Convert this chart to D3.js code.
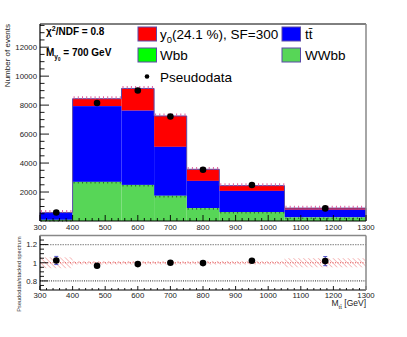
<!DOCTYPE html>
<html>
<head>
<meta charset="utf-8">
<script src="https://cdn.jsdelivr.net/npm/d3@7"></script>
<style>
  body { margin: 0; background: white; }
  text { font-family: "Liberation Sans", Arial, sans-serif; }
</style>
</head>
<body>
<script>
// bin edges and stacked contributions
var edges = [300, 400, 550, 650, 750, 850, 1050, 1300]
var wwbb = [80, 2700, 2490, 1740, 890, 620, 250]
var wbb = [0, 0, 0, 0, 0, 0, 0]
var ttbar = [470, 5230, 5130, 3380, 1880, 1460, 530]
var signal = [40, 510, 1530, 2130, 800, 360, 110]
var pseudo = [590, 8150, 9010, 7210, 3540, 2490, 870]
var centers = [350, 475, 600, 700, 800, 950, 1175]
var ratio = [1.025, 0.967, 0.985, 1.0, 0.996, 1.022, 1.018]
var ratioErr = [0.045, 0.012, 0.01, 0.01, 0.01, 0.014, 0.05]
var bandErr = [0.06, 0.02, 0.02, 0.02, 0.02, 0.02, 0.05]
var yTicks = [2000, 4000, 6000, 8000, 10000, 12000]
var rTicks = [0.8, 1, 1.2]
var xTicks = [300, 400, 500, 600, 700, 800, 900, 1000, 1100, 1200, 1300]

var W = 407, H = 337
var svg = d3.select("body").append("svg")
    .attr("width", W)
    .attr("height", H)

var defs = svg.append("defs")
var pat = defs.append("pattern")
    .attr("id", "hatch")
    .attr("patternUnits", "userSpaceOnUse")
    .attr("width", 3.5).attr("height", 3.5)
    .attr("patternTransform", "rotate(-45)")
pat.append("line")
    .attr("x1", 0).attr("y1", 0).attr("x2", 0).attr("y2", 3.5)
    .attr("stroke", "#f08080").attr("stroke-width", 1)

var x = d3.scaleLinear().domain([300, 1300]).range([40, 366])
var y = d3.scaleLinear().domain([0, 13600]).range([221, 24])
var yr = d3.scaleLinear().domain([0.7, 1.3]).range([290, 235.5])

// build stack
var bins = edges.slice(0, -1).map(function (e, i) {
    var g = wwbb[i], w = g + wbb[i], t = w + ttbar[i], s = t + signal[i]
    return { x0: e, x1: edges[i + 1], g: g, w: w, t: t, s: s }
})

var layers = [
    { key: 's', lo: 't', color: '#ff0000' },
    { key: 't', lo: 'w', color: '#0000ff' },
    { key: 'w', lo: 'g', color: '#00ff00' },
    { key: 'g', lo: null, color: '#57d657' }
]
var upper = svg.append("g")
layers.forEach(function (l) {
    upper.selectAll(null).data(bins).enter().append("rect")
        .attr("x", function (d) { return x(d.x0) })
        .attr("width", function (d) { return x(d.x1) - x(d.x0) })
        .attr("y", function (d) { return y(d[l.key]) })
        .attr("height", function (d) { return y(l.lo ? d[l.lo] : 0) - y(d[l.key]) })
        .attr("fill", l.color)
})

// outline of the stack
var outline = d3.line().x(function (d) { return x(d[0]) }).y(function (d) { return y(d[1]) })
var pts = [[300, 0]]
bins.forEach(function (b) { pts.push([b.x0, b.s]); pts.push([b.x1, b.s]) })
pts.push([1300, 0])
upper.append("path").attr("d", outline(pts))
    .attr("fill", "none").attr("stroke", "#5a4aa8").attr("stroke-width", 1)

// little uncertainty ticks on top of the stack and green layer
upper.selectAll(null).data(bins).enter().append("line")
    .attr("x1", function (d) { return x(d.x0) + 1 })
    .attr("x2", function (d) { return x(d.x1) })
    .attr("y1", function (d) { return y(d.s) - 1.2 })
    .attr("y2", function (d) { return y(d.s) - 1.2 })
    .attr("stroke", "#e060a0").attr("stroke-width", 2.4).attr("stroke-dasharray", "1,3.2")
upper.selectAll(null).data(bins).enter().append("line")
    .attr("x1", function (d) { return x(d.x0) + 1 })
    .attr("x2", function (d) { return x(d.x1) })
    .attr("y1", function (d) { return y(d.g) + 0.8 })
    .attr("y2", function (d) { return y(d.g) + 0.8 })
    .attr("stroke", "#2a6a2a").attr("stroke-width", 1.6).attr("stroke-dasharray", "1,3.2")

// pseudodata
upper.selectAll(null).data(centers).enter().append("circle")
    .attr("cx", function (d) { return x(d) })
    .attr("cy", function (d, i) { return y(pseudo[i]) })
    .attr("r", 3.3).attr("fill", "black")

// frame of upper pad
svg.append("line").attr("x1", 40).attr("x2", 366).attr("y1", 24).attr("y2", 24)
    .attr("stroke", "black").attr("stroke-width", 1)
svg.append("line").attr("x1", 366).attr("x2", 366).attr("y1", 24).attr("y2", 221)
    .attr("stroke", "#888").attr("stroke-width", 1.5)

// axes, ticks on the inside like ROOT
var drawX = function (y0, len, labY) {
    var g = svg.append("g")
    g.append("line").attr("x1", 40).attr("x2", 366).attr("y1", y0).attr("y2", y0)
        .attr("stroke", "black").attr("stroke-width", 1.2)
    for (var v = 300; v <= 1300; v += 20) {
        var major = v % 100 == 0
        g.append("line").attr("x1", x(v)).attr("x2", x(v))
            .attr("y1", y0).attr("y2", y0 - (major ? len : len / 2))
            .attr("stroke", "black").attr("stroke-width", 0.9)
    }
    g.selectAll(null).data(xTicks).enter().append("text")
        .attr("x", function (d) { return x(d) })
        .attr("y", labY)
        .attr("text-anchor", "middle")
        .attr("font-size", 7.8).attr("fill", "#222")
        .text(function (d) { return d })
}
drawX(221, 6, 229.5)
drawX(290, 4, 297.5)

// upper y axis
var ya = svg.append("g")
ya.append("line").attr("x1", 40).attr("x2", 40).attr("y1", 24).attr("y2", 221)
    .attr("stroke", "black").attr("stroke-width", 1.2)
for (var v = 500; v <= 13500; v += 500) {
    var major = v % 2000 == 0
    ya.append("line").attr("x1", 40).attr("x2", 40 + (major ? 9 : 4.5))
        .attr("y1", y(v)).attr("y2", y(v))
        .attr("stroke", "black").attr("stroke-width", 0.9)
}
ya.selectAll(null).data(yTicks).enter().append("text")
    .attr("x", 37).attr("y", function (d) { return y(d) + 2.8 })
    .attr("text-anchor", "end").attr("font-size", 7.8).attr("fill", "#222")
    .text(function (d) { return d })
svg.append("text")
    .attr("transform", "translate(10,24) rotate(-90)")
    .attr("text-anchor", "end").attr("font-size", 8).attr("fill", "#222")
    .text("Number of events")

// lower pad
var low = svg.append("g")
low.selectAll(null).data(bins).enter().append("rect")
    .attr("x", function (d) { return x(d.x0) })
    .attr("width", function (d) { return x(d.x1) - x(d.x0) })
    .attr("y", function (d, i) { return yr(1 + bandErr[i]) })
    .attr("height", function (d, i) { return yr(1 - bandErr[i]) - yr(1 + bandErr[i]) })
    .attr("fill", "url(#hatch)")
low.append("line").attr("x1", 40).attr("x2", 366).attr("y1", yr(1)).attr("y2", yr(1))
    .attr("stroke", "#e05050").attr("stroke-width", 1).attr("stroke-dasharray", "1,1.5")
low.append("line").attr("x1", 40).attr("x2", 366).attr("y1", yr(1.2)).attr("y2", yr(1.2))
    .attr("stroke", "#999").attr("stroke-width", 1.3).attr("stroke-dasharray", "1.5,1")
low.append("line").attr("x1", 40).attr("x2", 366).attr("y1", yr(0.8)).attr("y2", yr(0.8))
    .attr("stroke", "#222").attr("stroke-width", 1).attr("stroke-dasharray", "1,1.2")

// ratio points with error bars
centers.forEach(function (c, i) {
    var cx = x(c)
    low.append("line").attr("x1", cx).attr("x2", cx)
        .attr("y1", yr(ratio[i] + ratioErr[i])).attr("y2", yr(ratio[i] - ratioErr[i]))
        .attr("stroke", "#5050c8").attr("stroke-width", 1)
    if (ratioErr[i] > 0.02) {
        [ratio[i] + ratioErr[i], ratio[i] - ratioErr[i]].forEach(function (v) {
            low.append("line").attr("x1", cx - 2).attr("x2", cx + 2)
                .attr("y1", yr(v)).attr("y2", yr(v))
                .attr("stroke", "#5050c8").attr("stroke-width", 1)
        })
    }
    low.append("circle").attr("cx", cx).attr("cy", yr(ratio[i]))
        .attr("r", 3.3).attr("fill", "black")
})

// lower frame
svg.append("line").attr("x1", 40).attr("x2", 366).attr("y1", 235.5).attr("y2", 235.5)
    .attr("stroke", "#888").attr("stroke-width", 1.5)
svg.append("line").attr("x1", 366).attr("x2", 366).attr("y1", 235.5).attr("y2", 290)
    .attr("stroke", "#888").attr("stroke-width", 1.5)
low.append("line").attr("x1", 40).attr("x2", 40).attr("y1", 235.5).attr("y2", 290)
    .attr("stroke", "black").attr("stroke-width", 1.2)
for (var k = 15; k <= 25; k++) {
    var rr = k * 0.05
    var maj = k % 4 == 0
    low.append("line").attr("x1", 40).attr("x2", 40 + (maj ? 8 : 4))
        .attr("y1", yr(rr)).attr("y2", yr(rr))
        .attr("stroke", "black").attr("stroke-width", 0.9)
}
low.selectAll(null).data(rTicks).enter().append("text")
    .attr("x", 37).attr("y", function (d) { return yr(d) + 2.8 })
    .attr("text-anchor", "end").attr("font-size", 7.8).attr("fill", "#222")
    .text(function (d) { return d })
svg.append("text")
    .attr("transform", "translate(21,274) rotate(-90)")
    .attr("text-anchor", "middle").attr("font-size", 5.6).attr("fill", "#333")
    .text("Pseudodata/stacked spectrum")

// x title
var xt = svg.append("text").attr("x", 366).attr("y", 306)
    .attr("text-anchor", "end").attr("font-size", 8.5).attr("fill", "#222")
xt.append("tspan").text("M")
xt.append("tspan").attr("font-size", 6).attr("dy", 2.5).text("tt\u0304")
xt.append("tspan").attr("dy", -2.5).text(" [GeV]")

// labels in the upper pad
var chi = svg.append("text").attr("x", 46).attr("y", 35)
    .attr("font-size", 10).attr("font-weight", "bold")
chi.append("tspan").text("\u03c7")
chi.append("tspan").attr("font-size", 7).attr("dy", -4).text("2")
chi.append("tspan").attr("dy", 4).text("/NDF = 0.8")

var mass = svg.append("text").attr("x", 46).attr("y", 56)
    .attr("font-size", 10).attr("font-weight", "bold")
mass.append("tspan").text("M")
mass.append("tspan").attr("font-size", 6.5).attr("dy", 2.5).text("y")
mass.append("tspan").attr("font-size", 4.5).attr("dy", 2).text("0")
mass.append("tspan").attr("dy", -4.5).text(" = 700 GeV")

// legend
var legItems = [
    { color: '#ff0000', x: 138, y: 27 },
    { color: '#0000ff', x: 282, y: 27 },
    { color: '#00ff00', x: 138, y: 48 },
    { color: '#57d657', x: 282, y: 48 }
]
svg.selectAll(null).data(legItems).enter().append("rect")
    .attr("x", function (d) { return d.x }).attr("y", function (d) { return d.y })
    .attr("width", 18.5).attr("height", 14)
    .attr("fill", function (d) { return d.color })
    .attr("stroke", "#5a4aa8").attr("stroke-width", 1)

var l1 = svg.append("text").attr("x", 160).attr("y", 39).attr("font-size", 13.5)
l1.append("tspan").text("y")
l1.append("tspan").attr("font-size", 9.5).attr("dy", 3.5).text("0")
l1.append("tspan").attr("dy", -3.5).text("(24.1 %), SF=300")
svg.append("text").attr("x", 305).attr("y", 39).attr("font-size", 13.5).text("t\u0074\u0304")
svg.append("text").attr("x", 160).attr("y", 60).attr("font-size", 13.5).text("Wbb")
svg.append("text").attr("x", 305).attr("y", 60).attr("font-size", 13.5).text("WWbb")
svg.append("circle").attr("cx", 147).attr("cy", 76.5).attr("r", 2.3).attr("fill", "black")
svg.append("text").attr("x", 160).attr("y", 81.5).attr("font-size", 13.5).text("Pseudodata")
</script>
</body>
</html>
